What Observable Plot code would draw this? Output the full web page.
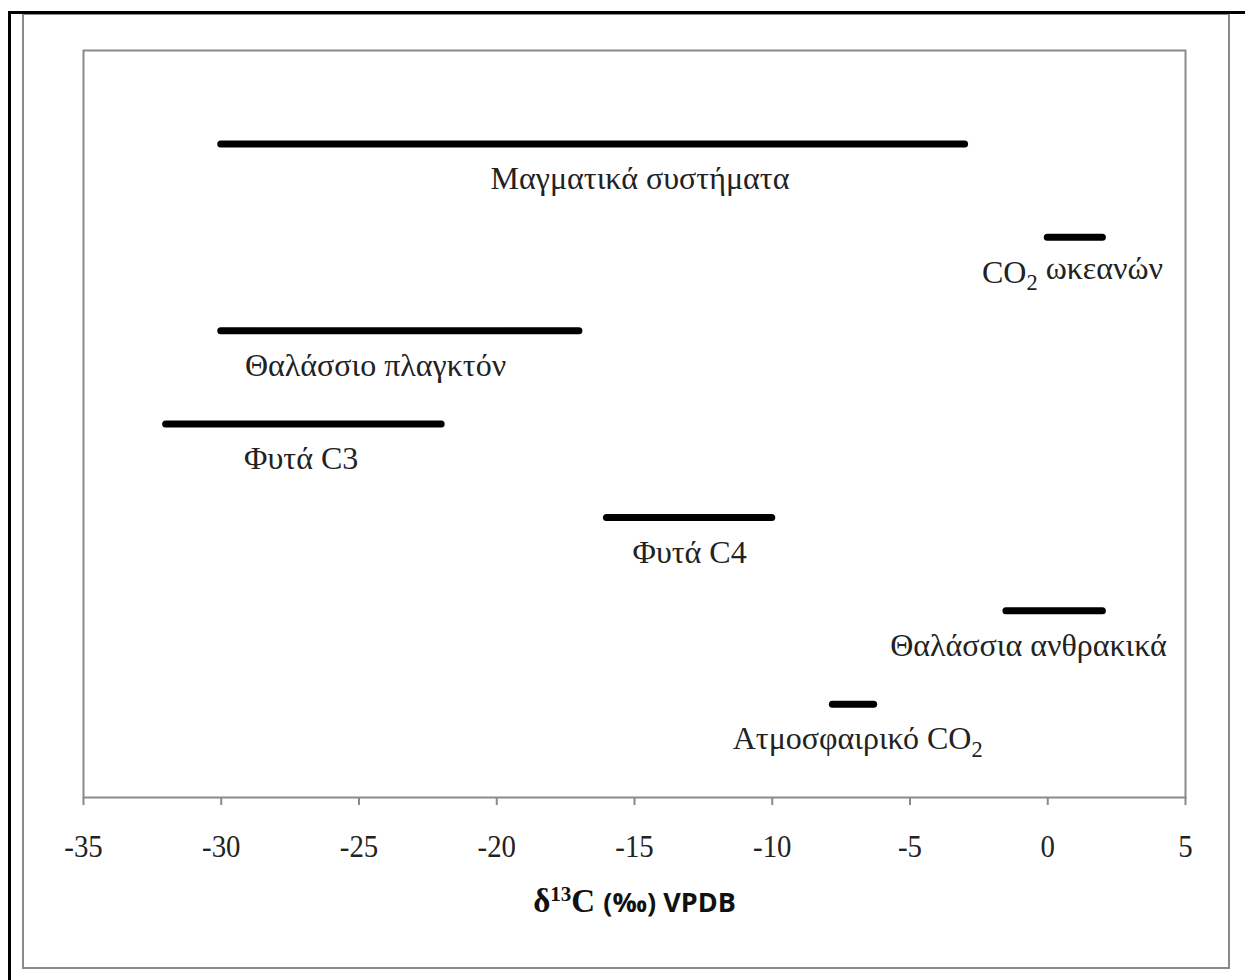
<!DOCTYPE html>
<html>
<head>
<meta charset="utf-8">
<script src="https://cdn.jsdelivr.net/npm/d3@7"></script>
<script src="https://cdn.jsdelivr.net/npm/@observablehq/plot@0.6"></script>
<style>
  html, body { margin: 0; padding: 0; background: #fff; }
  #wrap { position: relative; width: 1245px; height: 980px; overflow: hidden; }
  #wrap svg { position: absolute; left: 0; top: 0; }
  .box { position: absolute; box-sizing: border-box; pointer-events: none; }
</style>
</head>
<body>
<div id="wrap">
  <div class="box" style="left:22px; top:13px; width:1208px; height:956px; border:2px solid #8a8a8a;"></div>
  <div class="box" style="left:8px; top:11px; width:1300px; height:1100px; border-left:3px solid #000; border-top:3px solid #000;"></div>
</div>
<script>
// δ13C ranges (‰ VPDB) for carbon reservoirs, top to bottom
const sources = [
  "Μαγματικά συστήματα",
  "CO2 ωκεανών",
  "Θαλάσσιο πλαγκτόν",
  "Φυτά C3",
  "Φυτά C4",
  "Θαλάσσια ανθρακικά",
  "Ατμοσφαιρικό CO2"
];
const rangeMin = [-30, 0, -30, -32, -16, -1.5, -7.8];
const rangeMax = [-3, 2, -17, -22, -10, 2, -6.3];
// row index on the hidden vertical axis (0–8)
const rowY = [7, 6, 5, 4, 3, 2, 1];
// horizontal anchor of each label, in ‰
const labelX = [-14.8, 0.9, -24.4, -27.1, -13.0, -0.7, -6.9];
const xTicks = [-35, -30, -25, -20, -15, -10, -5, 0, 5];
const axisTitle = "δ13C (‰) VPDB";

const rows = sources.map((name, i) => ({
  name, x1: rangeMin[i], x2: rangeMax[i], y: rowY[i], lx: labelX[i]
}));

const serif = "'Liberation Serif', 'Times New Roman', serif";

const chart = Plot.plot({
  width: 1245,
  height: 980,
  marginLeft: 83,
  marginRight: 60,
  marginTop: 50,
  marginBottom: 183,
  style: { background: "transparent", fontFamily: serif, overflow: "visible" },
  x: { domain: [-35, 5], ticks: xTicks, label: null },
  y: { domain: [0, 8], axis: null },
  marks: [
    Plot.frame({ stroke: "#8a8a8a", strokeWidth: 2 }),
    Plot.axisX({
      ticks: xTicks,
      tickSize: 8,
      tickPadding: 29,
      tickFormat: d => String(d),
      fontSize: 32,
      fill: "#222",
      stroke: "#8a8a8a",
      strokeWidth: 2,
      label: null,
      className: "xticks"
    }),
    Plot.ruleY(rows, {
      x1: "x1", x2: "x2", y: "y",
      stroke: "#000", strokeWidth: 7, strokeLinecap: "round"
    }),
    Plot.text(rows, {
      x: "lx", y: "y", text: "name",
      dy: 35, fontSize: 32, fill: "#222", fontFamily: serif
    }),
    Plot.text([axisTitle], {
      frameAnchor: "bottom", text: d => d, dy: 114,
      fontSize: 27, fontWeight: "bold", fill: "#111",
      className: "axis-title"
    })
  ]
});

document.getElementById("wrap").prepend(chart);

// tick labels are set slightly condensed
d3.select(chart).selectAll(".xticks text").each(function () {
  const el = d3.select(this);
  const tr = el.attr("transform") || "";
  el.attr("transform", tr + " scale(0.9,1)");
});

// subscript the "2" of CO2 in the labels
d3.select(chart).selectAll("text").each(function () {
  const el = d3.select(this);
  const tspan = el.select("tspan");
  const target = tspan.empty() ? el : tspan;
  const t = target.text();
  if (t.includes("CO2")) {
    const [pre, post] = t.split("CO2");
    target.text(null);
    target.append("tspan").text(pre + "CO");
    target.append("tspan").attr("dy", "0.32em").attr("font-size", "0.7em").text("2");
    if (post) target.append("tspan").attr("dy", "-0.32em").text(post);
  }
});

// axis title: serif δ with superscript 13 and serif C, then sans "(‰) VPDB"
d3.select(chart).selectAll(".axis-title text").each(function () {
  const el = d3.select(this);
  el.text(null);
  el.append("tspan").attr("font-family", serif).attr("font-size", 33).text("δ");
  el.append("tspan").attr("font-family", serif).attr("font-size", 21).attr("dy", "-0.5em").text("13");
  el.append("tspan").attr("font-family", serif).attr("font-size", 33).attr("dy", "0.32em").text("C ");
  el.append("tspan").attr("font-family", "'Open Sans', 'Liberation Sans', sans-serif").attr("font-size", 27).text("(‰) VPDB");
});
</script>
</body>
</html>
